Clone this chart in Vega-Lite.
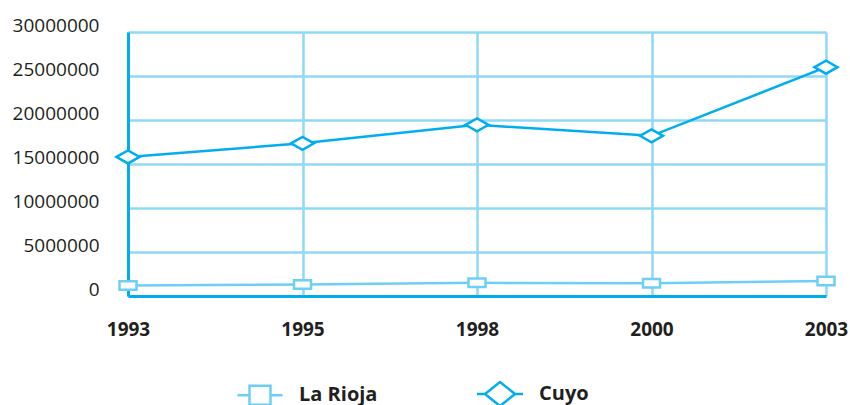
{
  "$schema": "https://vega.github.io/schema/vega-lite/v6.json",
  "autosize": "none",
  "width": 698,
  "height": 264,
  "padding": {"left": 128, "top": 32, "right": 24, "bottom": 109},
  "config": {"view": {"stroke": null}, "font": "Open Sans"},
  "data": {
    "values": [
      {"year": "1993", "series": "La Rioja", "value": 1200000},
      {"year": "1995", "series": "La Rioja", "value": 1300000},
      {"year": "1998", "series": "La Rioja", "value": 1500000},
      {"year": "2000", "series": "La Rioja", "value": 1450000},
      {"year": "2003", "series": "La Rioja", "value": 1700000},
      {"year": "1993", "series": "Cuyo", "value": 15800000},
      {"year": "1995", "series": "Cuyo", "value": 17350000},
      {"year": "1998", "series": "Cuyo", "value": 19450000},
      {"year": "2000", "series": "Cuyo", "value": 18200000},
      {"year": "2003", "series": "Cuyo", "value": 26000000}
    ]
  },
  "encoding": {
    "x": {
      "field": "year", "type": "ordinal",
      "scale": {"type": "point", "padding": 0},
      "axis": {
        "title": null, "labelAngle": 0, "grid": true, "gridColor": "#8fd9f7", "gridWidth": 2.5,
        "domainColor": "#00aeef", "domainWidth": 3, "ticks": false,
        "labelFont": "Open Sans", "labelFontSize": 19, "labelFontWeight": "bold", "labelColor": "#231f20",
        "labelPadding": 24
      }
    },
    "y": {
      "field": "value", "type": "quantitative",
      "scale": {"domain": [0, 30000000]},
      "axis": {
        "title": null, "values": [0, 5000000, 10000000, 15000000, 20000000, 25000000, 30000000],
        "format": "d", "grid": true, "gridColor": "#8fd9f7", "gridWidth": 2.5,
        "domainColor": "#00aeef", "domainWidth": 3, "ticks": false,
        "labelFont": "Open Sans", "labelFontSize": 19, "labelColor": "#231f20",
        "labelPadding": 29, "labelOffset": -7
      }
    },
    "stroke": {
      "field": "series", "type": "nominal",
      "scale": {"domain": ["La Rioja", "Cuyo"], "range": ["#6dcff6", "#00aeef"]},
      "legend": {
        "title": null, "orient": "none", "legendX": 122, "legendY": 352,
        "direction": "horizontal", "padding": 0, "columnPadding": 94,
        "labelFont": "Open Sans", "labelFontSize": 20, "labelFontWeight": "bold", "labelColor": "#231f20",
        "labelOffset": 29, "labelLimit": 400, "symbolSize": 100,
        "encode": {
          "symbols": {
            "update": {
              "shape": {"signal": "datum.value === 'Cuyo' ? 'M -4.6 0 L -3 0 M -3 0 L 0 -2.4 L 3 0 L 0 2.4 Z M 3 0 L 4.6 0' : 'M -4.5 0 L -2.1 0 M -2.1 -1.9 L 2.1 -1.9 L 2.1 1.9 L -2.1 1.9 Z M 2.1 0 L 4.5 0'"},
              "size": {"value": 100},
              "fill": {"value": "white"},
              "fillOpacity": {"value": 1},
              "strokeWidth": {"value": 2.5}
            }
          }
        }
      }
    }
  },
  "layer": [
    {"mark": {"type": "line", "strokeWidth": 2.5}},
    {
      "transform": [{"filter": "datum.series === 'La Rioja'"}],
      "mark": {"type": "point", "filled": true, "fill": "white", "fillOpacity": 1, "opacity": 1, "strokeWidth": 2.5, "size": 100,
               "shape": "M -1.7 -0.85 L 1.7 -0.85 L 1.7 0.85 L -1.7 0.85 Z"}
    },
    {
      "transform": [{"filter": "datum.series === 'Cuyo'"}],
      "mark": {"type": "point", "filled": true, "fill": "white", "fillOpacity": 1, "opacity": 1, "strokeWidth": 2.5, "size": 100,
               "shape": "M -2.3 0 L 0 -1.3 L 2.3 0 L 0 1.3 Z"}
    }
  ]
}
